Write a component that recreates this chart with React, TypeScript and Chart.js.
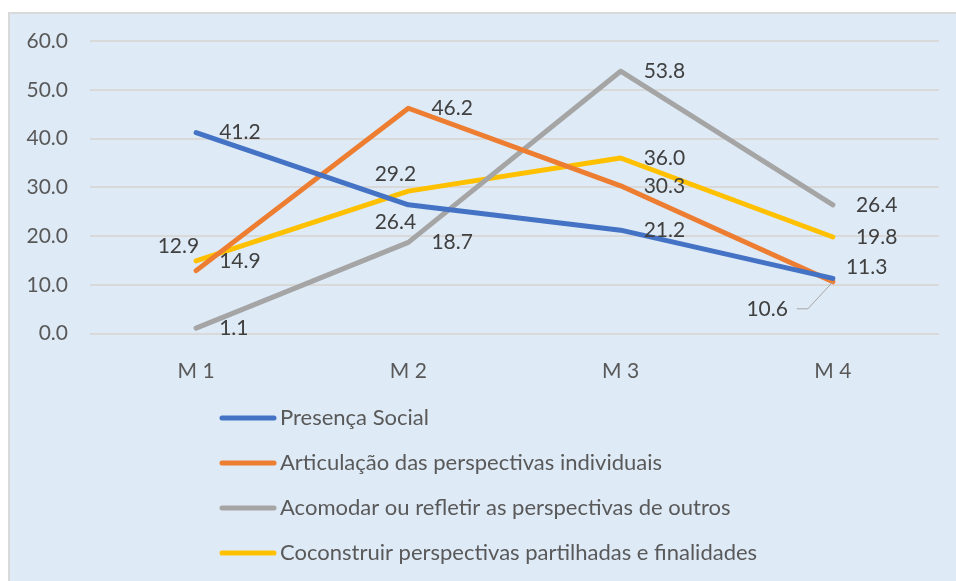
import React, { useEffect, useRef } from "react";
import { Chart, registerables } from "chart.js";

Chart.register(...registerables);

const categories = ["M 1", "M 2", "M 3", "M 4"];
const seriesNames = [
  "Presença Social",
  "Articulação das perspectivas individuais",
  "Acomodar ou refletir as perspectivas de outros",
  "Coconstruir perspectivas partilhadas e finalidades",
];
const presencaSocial = [41.2, 26.4, 21.2, 11.3];
const articulacao = [12.9, 46.2, 30.3, 10.6];
const acomodar = [1.1, 18.7, 53.8, 26.4];
const coconstruir = [14.9, 29.2, 36.0, 19.8];
const seriesColors = ["#4472C4", "#ED7D31", "#A5A5A5", "#FFC000"];
const yTicks = { min: 0, max: 60, step: 10 };

const FONT = "Lato, 'Open Sans', sans-serif";

// label placement per series/point: null => right of point; else [dx, dy, align, leader]
const LABEL_PLACEMENT: (null | [number, number, CanvasTextAlign, boolean?])[][] = [
  [null, [-13, 17, "center"], null, [13, -11, "left"]],
  [[3, -24, "right"], null, null, [-45, 27, "right", true]],
  [null, null, null, null],
  [null, [-13, -17, "center"], null, null],
];

const labelPlugin = {
  id: "customLabels",
  beforeDraw(chart: any) {
    const { ctx, width, height } = chart;
    ctx.save();
    ctx.fillStyle = "#DEEAF6";
    ctx.fillRect(0, 0, width, height);
    ctx.strokeStyle = "#D9D9D9";
    ctx.lineWidth = 2;
    ctx.beginPath();
    ctx.moveTo(1, height);
    ctx.lineTo(1, 1);
    ctx.lineTo(width, 1);
    ctx.stroke();
    ctx.restore();
  },
  afterDatasetsDraw(chart: any) {
    const { ctx } = chart;
    ctx.save();
    ctx.font = `21px ${FONT}`;
    ctx.fillStyle = "#404040";
    ctx.textBaseline = "middle";
    chart.data.datasets.forEach((ds: any, i: number) => {
      const meta = chart.getDatasetMeta(i);
      meta.data.forEach((pt: any, j: number) => {
        const v = ds.data[j];
        const text = v.toFixed(1);
        const pl = LABEL_PLACEMENT[i][j];
        let x = pt.x + 23;
        let y = pt.y;
        let align: CanvasTextAlign = "left";
        if (pl) {
          x = pt.x + pl[0];
          y = pt.y + pl[1];
          align = pl[2];
          if (pl[3]) {
            ctx.strokeStyle = "#A6A6A6";
            ctx.lineWidth = 1;
            ctx.beginPath();
            ctx.moveTo(x + 9, y);
            ctx.lineTo(x + 20, y);
            ctx.lineTo(pt.x, pt.y);
            ctx.stroke();
          }
        }
        ctx.textAlign = align;
        ctx.fillText(text, x, y);
      });
    });
    ctx.restore();
  },
  afterDraw(chart: any) {
    const { ctx } = chart;
    ctx.save();
    ctx.font = `22px ${FONT}`;
    ctx.textBaseline = "middle";
    ctx.textAlign = "left";
    chart.data.datasets.forEach((ds: any, i: number) => {
      const y = 406 + 45 * i;
      ctx.strokeStyle = ds.borderColor;
      ctx.lineWidth = 5;
      ctx.lineCap = "round";
      ctx.beginPath();
      ctx.moveTo(214, y);
      ctx.lineTo(266, y);
      ctx.stroke();
      ctx.fillStyle = "#595959";
      ctx.fillText(ds.label, 272, y);
    });
    ctx.restore();
  },
};

export default function App() {
  const ref = useRef<HTMLCanvasElement>(null);
  useEffect(() => {
    document.body.style.overflow = "hidden";
    const values = [presencaSocial, articulacao, acomodar, coconstruir];
    const chart = new Chart(ref.current!, {
      type: "line",
      data: {
        labels: categories,
        datasets: values.map((d, i) => ({
          label: seriesNames[i],
          data: d,
          borderColor: seriesColors[i],
          backgroundColor: seriesColors[i],
          borderWidth: 5,
          pointRadius: 0,
          pointHoverRadius: 0,
          tension: 0,
          borderCapStyle: "round",
          borderJoinStyle: "round",
        })),
      },
      options: {
        responsive: false,
        animation: false,
        layout: { padding: { top: 29, right: 17, left: 0, bottom: 0 } },
        plugins: { legend: { display: false }, tooltip: { enabled: false } },
        scales: {
          x: {
            offset: true,
            grid: { display: false },
            border: { display: false },
            ticks: { color: "#595959", font: { family: FONT, size: 21 }, padding: 17 },
            afterFit: (s: any) => {
              s.height = 247.5;
            },
          },
          y: {
            min: yTicks.min,
            max: yTicks.max,
            grid: { color: "#D9D9D9", lineWidth: 2, drawTicks: false },
            border: { display: false },
            ticks: {
              stepSize: yTicks.step,
              color: "#595959",
              font: { family: FONT, size: 21 },
              padding: 22,
              callback: (v: any) => Number(v).toFixed(1),
            },
            afterFit: (s: any) => {
              s.width = 82;
              s.paddingTop = 10;
              s.paddingBottom = 10;
            },
          },
        },
      },
      plugins: [labelPlugin],
    });
    return () => chart.destroy();
  }, []);
  return (
    <div style={{ position: "absolute", left: 8, top: 12, width: 948, height: 569 }}>
      <canvas ref={ref} width={948} height={569} style={{ display: "block" }} />
    </div>
  );
}
